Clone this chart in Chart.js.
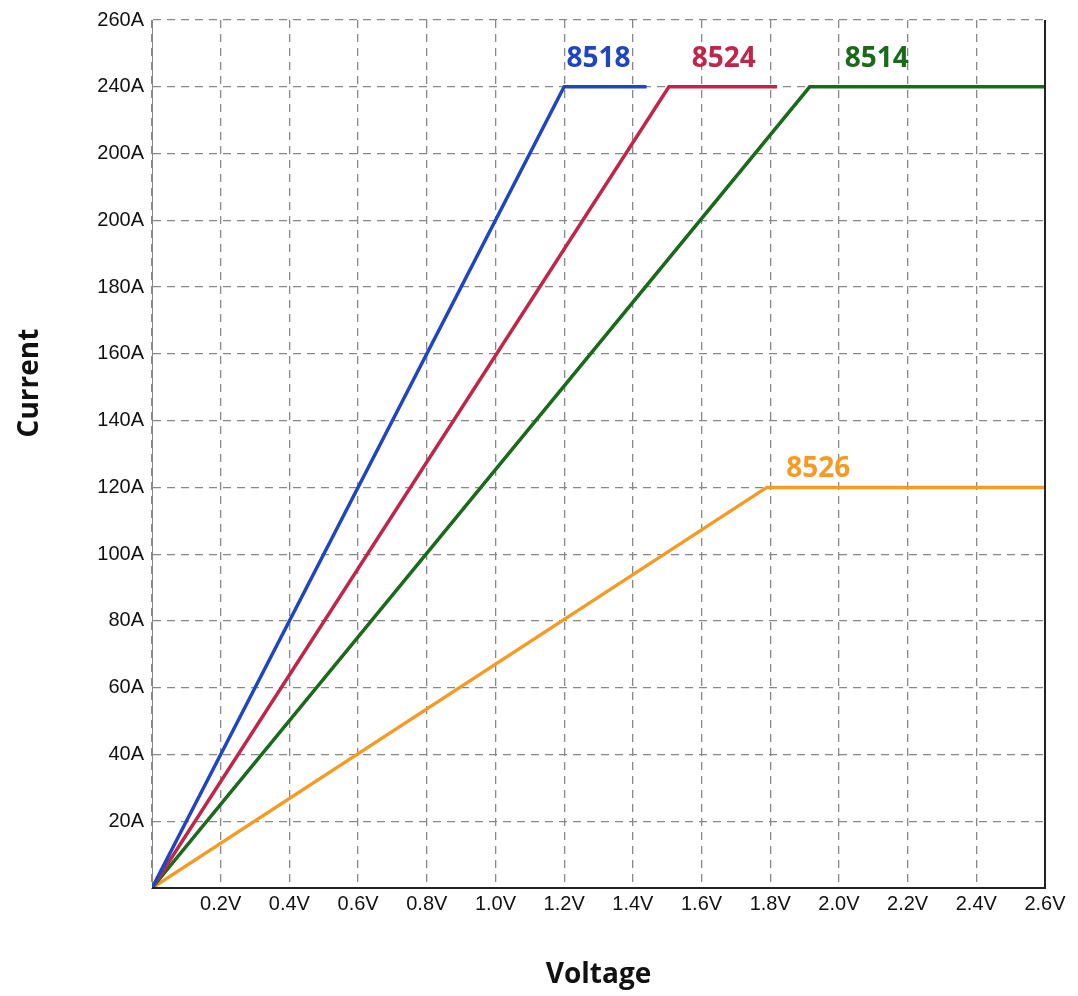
<!DOCTYPE html>
<html><head><meta charset="utf-8">
<script src="https://cdn.jsdelivr.net/npm/chart.js@4"></script>
<style>html,body{margin:0;padding:0;background:#fff}#w{width:1078px;height:996px}</style>
</head><body><div id="w"><canvas id="c"></canvas></div>
<script>
const seriesNames = ['8518','8524','8514','8526'];
const colors = ['#1f45c0','#c0254a','#1b6a1b','#f59b25'];
const v8518 = [[0,0],[1.2,240],[1.44,240]];
const v8524 = [[0,0],[1.505,240],[1.82,240]];
const v8514 = [[0,0],[1.915,240],[2.6,240]];
const v8526 = [[0,0],[1.79,120],[2.6,120]];
const labelPos = [[1.30,246],[1.665,246],[2.11,246],[1.94,123]];
const yTickLabels = ['', '20A','40A','60A','80A','100A','120A','140A','160A','180A','200A','200A','240A','260A'];
const allSeries = [v8518,v8524,v8514,v8526];

const labelPlugin = {
  id:'lbl',
  afterDatasetsDraw(chart){
    const {ctx, scales:{x,y}, chartArea:a} = chart;
    ctx.save();
    ctx.strokeStyle='#222'; ctx.lineWidth=2;
    ctx.beginPath(); ctx.moveTo(a.right,a.top); ctx.lineTo(a.right,a.bottom); ctx.lineTo(a.left,a.bottom); ctx.stroke();
    ctx.font='bold 28px "Open Sans", sans-serif';
    ctx.textAlign='center'; ctx.textBaseline='bottom';
    seriesNames.forEach((n,i)=>{
      ctx.fillStyle=colors[i];
      ctx.fillText(n, x.getPixelForValue(labelPos[i][0]), y.getPixelForValue(labelPos[i][1])+6);
    });
    ctx.fillStyle='#111';
    ctx.translate(30,383); ctx.rotate(-Math.PI/2);
    ctx.textBaseline='middle';
    ctx.fillText('Current',0,0);
    ctx.restore();
  }
};

new Chart(document.getElementById('c'), {
  type:'line',
  data:{datasets: allSeries.map((s,i)=>({
    label:seriesNames[i], data:s.map(p=>({x:p[0],y:p[1]})),
    borderColor:colors[i], borderWidth:3.5, pointRadius:0, tension:0, fill:false
  }))},
  options:{
    responsive:true, maintainAspectRatio:false, animation:false,
    layout:{padding:{top:18,right:33,left:0,bottom:0}},
    plugins:{legend:{display:false}, tooltip:{enabled:false}},
    scales:{
      x:{type:'linear', min:0, max:2.6,
        afterFit(s){s.height=108;},
        ticks:{stepSize:0.2, color:'#111', font:{size:20, family:'"Liberation Sans", Arial'},
          maxRotation:0, padding:4,
          callback:v=> Math.abs(v)<1e-6 ? '' : v.toFixed(1)+'V'},
        grid:{color:'#888', lineWidth:1.3, tickLength:0},
        border:{display:true, color:'#888', dash:[8,6]},
        title:{display:true, text:'Voltage', color:'#111', font:{size:28, weight:'bold', family:'"Open Sans", sans-serif'}, padding:{top:40}}
      },
      y:{type:'linear', min:0, max:260,
        afterFit(s){s.width=152;},
        ticks:{stepSize:20, color:'#111', font:{size:20, family:'"Liberation Sans", Arial'}, padding:8,
          callback:(v)=> yTickLabels[Math.round(v/20)]},
        grid:{color:'#888', lineWidth:1.3, tickLength:0},
        border:{display:true, color:'#888', dash:[8,6]}
      }
    }
  },
  plugins:[labelPlugin]
});
</script></body></html>
